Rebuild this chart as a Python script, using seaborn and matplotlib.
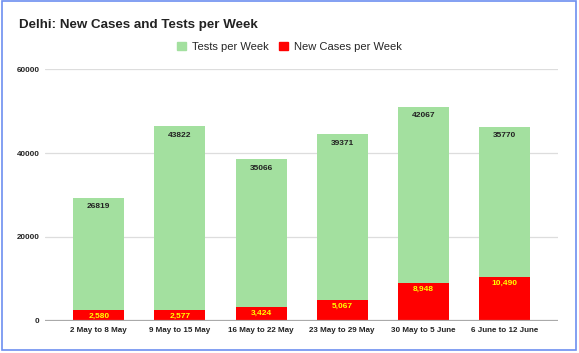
import matplotlib
matplotlib.use("Agg")
import matplotlib.pyplot as plt
import numpy as np
import pandas as pd
import seaborn as sns
from matplotlib.patches import Patch, Rectangle

weeks = ["2 May to 8 May", "9 May to 15 May", "16 May to 22 May",
         "23 May to 29 May", "30 May to 5 June", "6 June to 12 June"]
tests = [26819, 43822, 35066, 39371, 42067, 35770]
cases = [2580, 2577, 3424, 5067, 8948, 10490]
yticks = [0, 20000, 40000, 60000]

GREEN = "#a3e09f"
RED = "#ff0000"

sns.set_style("white")
plt.rcParams["font.family"] = ["Liberation Sans", "DejaVu Sans"]

df = pd.DataFrame({"week": weeks, "tests": tests, "cases": cases})
df["total"] = df["tests"] + df["cases"]

fig = plt.figure(figsize=(5.79, 3.53), dpi=100)
ax = fig.add_axes([0.078, 0.0907, 0.886, 0.7138])

sns.barplot(data=df, x="week", y="total", color=GREEN, width=0.63,
            saturation=1, ax=ax, zorder=2, edgecolor="none")
sns.barplot(data=df, x="week", y="cases", color=RED, width=0.63,
            saturation=1, ax=ax, zorder=3, edgecolor="none")

ax.set_ylim(0, 60000)
ax.set_xlim(-0.66, 5.66)
ax.set_yticks(yticks)
ax.set_yticklabels([str(v) for v in yticks], fontsize=5.8, fontweight="bold",
                   color="#222222")
ax.tick_params(axis="x", labelsize=5.8, length=0, pad=4, labelcolor="#222222")
for lbl in ax.get_xticklabels():
    lbl.set_fontweight("bold")
ax.tick_params(axis="y", length=0, pad=4)
for y in yticks[1:]:
    ax.axhline(y, color="#dddddd", lw=0.9, zorder=1)
ax.axhline(0, color="#aaaaaa", lw=1.6, zorder=4)
for s in ax.spines.values():
    s.set_visible(False)
ax.set_xlabel("")
ax.set_ylabel("")

for i, row in df.iterrows():
    ax.annotate(str(row["tests"]), (i, row["total"]), xytext=(0, -4),
                textcoords="offset points", ha="center", va="top",
                fontsize=6, fontweight="bold", color="#222222", zorder=5)
    ax.annotate(f"{row['cases']:,}", (i, row["cases"]), xytext=(0, -2),
                textcoords="offset points", ha="center", va="top",
                fontsize=6, fontweight="bold", color="#ffff00", zorder=5)

fig.text(0.033, 0.93, "Delhi: New Cases and Tests per Week", fontsize=9.6,
         fontweight="bold", color="#222222", va="center", ha="left")

handles = [Patch(color=GREEN, label="Tests per Week"),
           Patch(color=RED, label="New Cases per Week")]
fig.legend(handles=handles, loc="center", bbox_to_anchor=(0.5, 0.867),
           ncol=2, frameon=False, fontsize=8, handlelength=0.8,
           handleheight=0.8, handletextpad=0.5, columnspacing=1.0)

fig.patches.append(Rectangle((0.004, 0.008), 0.99, 0.988, transform=fig.transFigure,
                             fill=False, edgecolor="#6d8ff0", lw=1.2))

fig.savefig("out.png", dpi=100)
